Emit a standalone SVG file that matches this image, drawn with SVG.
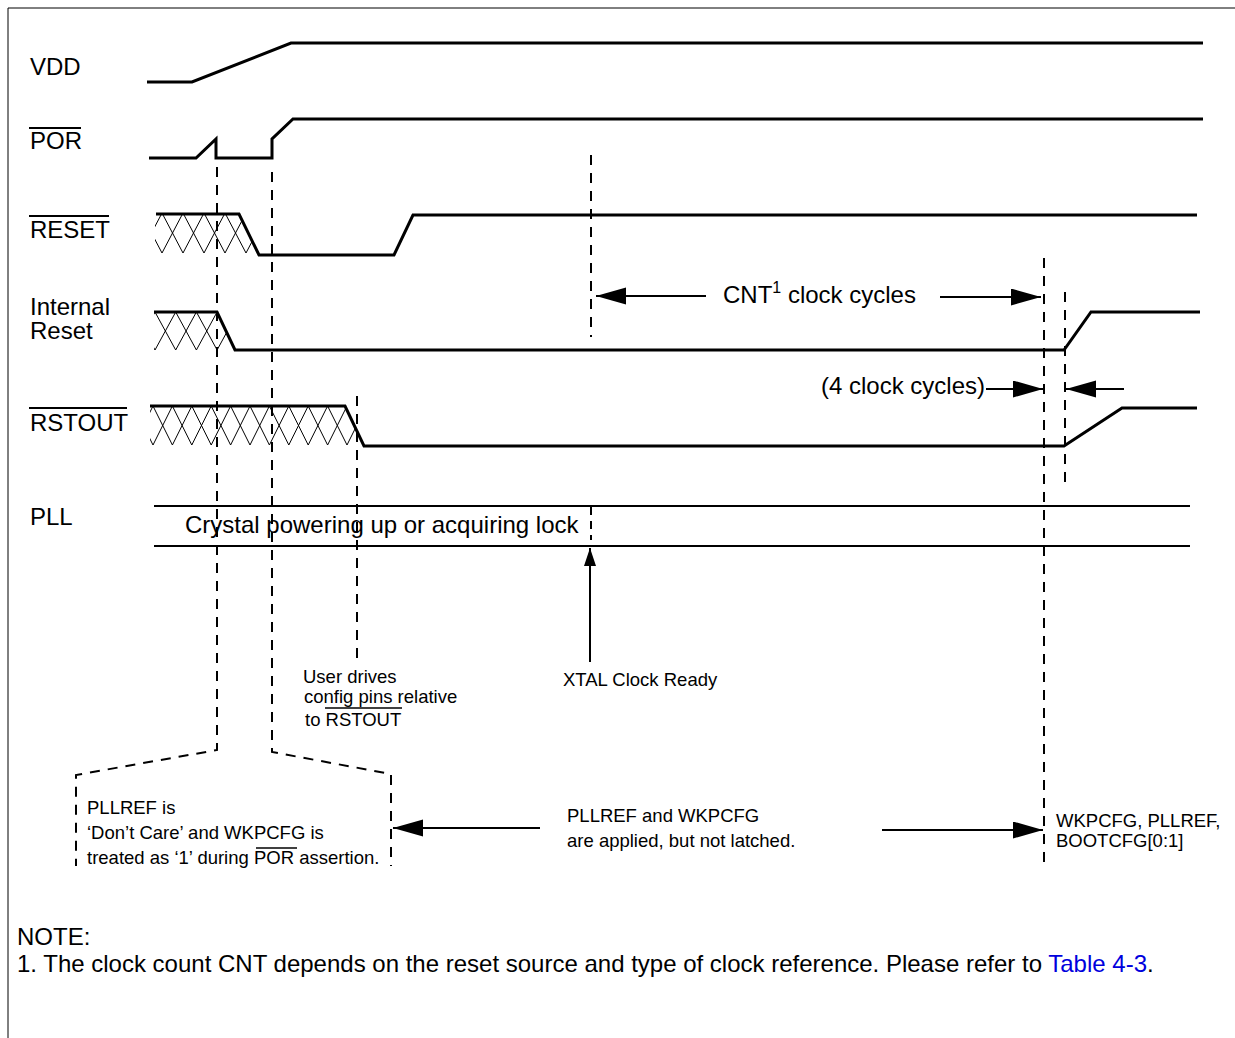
<svg xmlns="http://www.w3.org/2000/svg" width="1235" height="1038" viewBox="0 0 1235 1038">
<style>
text{font-family:"Liberation Sans",Arial,sans-serif;fill:#000}
.lbl{font-size:24px}
.sm{font-size:18.5px}
.wave{fill:none;stroke:#000;stroke-width:3;stroke-linejoin:miter}
.ol{stroke:#000;stroke-width:2}
.hatch{fill:none;stroke:#000;stroke-width:1}
.dash{fill:none;stroke:#000;stroke-width:2;stroke-dasharray:10 8}
.arr{stroke:#000;stroke-width:2;fill:none}
</style>
<defs>
<marker id="ah" markerUnits="userSpaceOnUse" markerWidth="30" markerHeight="18" refX="30" refY="8.5" orient="auto">
<path d="M0,0 L30,8.5 L0,17 z" fill="#000"/>
</marker>
<marker id="ahs" markerUnits="userSpaceOnUse" markerWidth="18" markerHeight="12" refX="18" refY="6" orient="auto">
<path d="M0,0 L18,6 L0,12 z" fill="#000"/>
</marker>
<clipPath id="cr"><polygon points="155,213 239,213 259,255 155,255"/></clipPath>
<clipPath id="ci"><polygon points="154,312 217,312 235,350 154,350"/></clipPath>
<clipPath id="co"><polygon points="150,406 345,406 364,446 150,446"/></clipPath>
</defs>
<rect width="1235" height="1038" fill="#fff"/>
<g id="frame"><path d="M8,1038 V8 H1235" fill="none" stroke="#000" stroke-width="1"/></g>

<g id="vdd">
<text class="lbl" x="30" y="75">VDD</text>
<polyline class="wave" points="147,82 192,82 291,43 1203,43"/>
</g>

<g id="por">
<text class="lbl" x="30" y="149">POR</text>
<line class="ol" x1="29" y1="128" x2="81" y2="128"/>
<polyline class="wave" points="149,158 196,158 216,139 216,158 272,158 272,139 293,119 1203,119"/>
</g>

<g id="reset">
<text class="lbl" x="30" y="238">RESET</text>
<line class="ol" x1="29" y1="216" x2="109" y2="216"/>
<g clip-path="url(#cr)">
<polyline class="hatch" points="141,213 162,253 183,213 204,253 225,213 246,253 267,213"/>
<polyline class="hatch" points="141,253 162,213 183,253 204,213 225,253 246,213 267,253"/>
</g>
<polyline class="wave" points="156,214 239,214 259,255 394,255 413,215 1197,215"/>
</g>

<g id="internal-reset">
<text class="lbl" x="30" y="315">Internal</text>
<text class="lbl" x="30" y="339">Reset</text>
<g clip-path="url(#ci)">
<polyline class="hatch" points="134.3,312 155,350 175.7,312 196.4,350 217.1,312 237.8,350"/>
<polyline class="hatch" points="134.3,350 155,312 175.7,350 196.4,312 217.1,350 237.8,312"/>
</g>
<polyline class="wave" points="154,312 217,312 235,350 1064,350 1091,312 1200,312"/>
</g>

<g id="rstout">
<text class="lbl" x="30" y="431">RSTOUT</text>
<line class="ol" x1="29" y1="408" x2="127" y2="408"/>
<g clip-path="url(#co)">
<polyline class="hatch" points="133.6,406 153,445 172.4,406 191.8,445 211.2,406 230.6,445 250,406 269.4,445 288.8,406 308.2,445 327.6,406 347,445 366.4,406"/>
<polyline class="hatch" points="133.6,445 153,406 172.4,445 191.8,406 211.2,445 230.6,406 250,445 269.4,406 288.8,445 308.2,406 327.6,445 347,406 366.4,445"/>
</g>
<polyline class="wave" points="150,406 345,406 364,446 1064,446 1122,408 1197,408"/>
</g>

<g id="pll">
<text class="lbl" x="30" y="525">PLL</text>
<line x1="154" y1="506" x2="1190" y2="506" stroke="#000" stroke-width="2"/>
<line x1="154" y1="546" x2="1190" y2="546" stroke="#000" stroke-width="2"/>
<text class="lbl" x="185" y="533">Crystal powering up or acquiring lock</text>
</g>

<g id="connectors">
<polyline class="dash" points="217,167 217,750 76,775 76,866"/>
<polyline class="dash" points="272,172 272,752 391,774 391,866"/>
<line class="dash" x1="357" y1="396" x2="357" y2="662"/>
<line class="dash" x1="591" y1="155" x2="591" y2="337"/>
<line class="dash" x1="591" y1="507" x2="591" y2="540" style="stroke-dasharray:8 6"/>
<line class="dash" x1="1044" y1="258" x2="1044" y2="866"/>
<line class="dash" x1="1065" y1="292" x2="1065" y2="488"/>
<line class="arr" x1="706" y1="296" x2="596" y2="296" marker-end="url(#ah)"/>
<line class="arr" x1="940" y1="297" x2="1041" y2="297" marker-end="url(#ah)"/>
<line class="arr" x1="986" y1="389" x2="1043" y2="389" marker-end="url(#ah)"/>
<line class="arr" x1="1124" y1="389" x2="1066" y2="389" marker-end="url(#ah)"/>
<line class="arr" x1="590" y1="662" x2="590" y2="548" marker-end="url(#ahs)"/>
<line class="arr" x1="540" y1="828" x2="393" y2="828" marker-end="url(#ah)"/>
<line class="arr" x1="882" y1="830" x2="1043" y2="830" marker-end="url(#ah)"/>
</g>

<g id="cnt-label">
<text class="lbl" x="723" y="303">CNT<tspan font-size="16" dy="-10">1</tspan><tspan dy="10"> clock cycles</tspan></text>
</g>
<g id="four-cycles-label"><text class="lbl" x="821" y="394">(4 clock cycles)</text></g>

<g id="user-drives">
<text class="sm" x="303" y="683">User drives</text>
<text class="sm" x="304" y="703">config pins relative</text>
<text class="sm" x="305" y="726">to RSTOUT</text>
<line x1="325" y1="708" x2="402" y2="708" stroke="#000" stroke-width="1.5"/>
</g>

<g id="xtal-ready"><text class="sm" x="563" y="686">XTAL Clock Ready</text></g>

<g id="por-box">
<text class="sm" x="87" y="814">PLLREF is</text>
<text class="sm" x="87" y="839">‘Don’t Care’ and WKPCFG is</text>
<text class="sm" x="87" y="864">treated as ‘1’ during POR assertion.</text>
<line x1="256" y1="848" x2="297" y2="848" stroke="#000" stroke-width="1.5"/>
</g>

<g id="applied-label">
<text class="sm" x="567" y="822">PLLREF and WKPCFG</text>
<text class="sm" x="567" y="847">are applied, but not latched.</text>
</g>

<g id="latched-label">
<text class="sm" x="1056" y="827">WKPCFG, PLLREF,</text>
<text class="sm" x="1056" y="847">BOOTCFG[0:1]</text>
</g>

<g id="note">
<text class="lbl" x="17" y="945">NOTE:</text>
<text class="lbl" x="17" y="972">1. The clock count CNT depends on the reset source and type of clock reference. Please refer to <tspan fill="#0000dd">Table 4-3</tspan>.</text>
</g>
</svg>
